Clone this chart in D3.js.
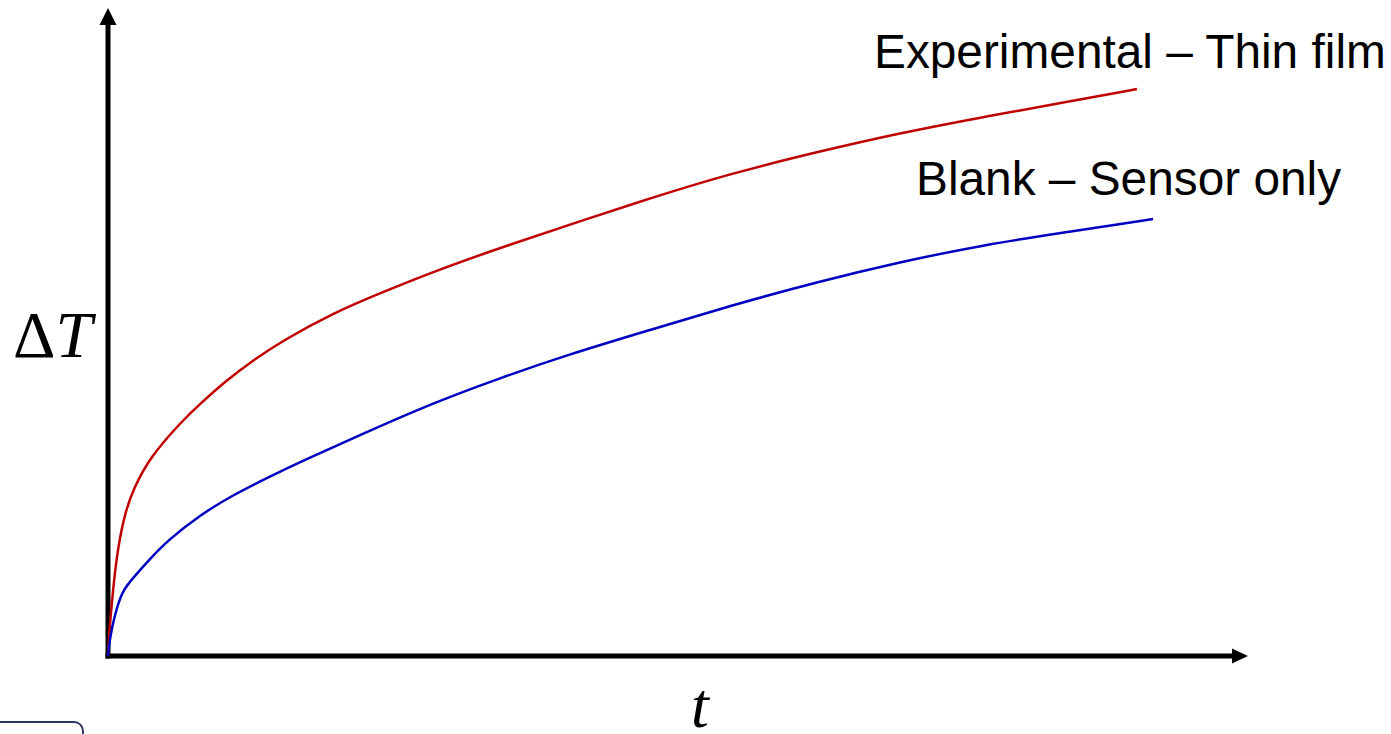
<!DOCTYPE html>
<html>
<head>
<meta charset="utf-8">
<script src="https://cdn.jsdelivr.net/npm/d3@7"></script>
<style>
  html, body { margin: 0; padding: 0; background: #fff; overflow: hidden; }
  svg { display: block; }
</style>
</head>
<body>
<svg id="chart" width="1391" height="734"></svg>
<script>
// ---- data (arbitrary units) ----
const expT   = [0, 0.09, 0.26, 0.53, 0.88, 1.49, 2.19, 3.68, 6.58, 8.07, 10.44, 12.46, 15.35, 19.74, 24.12, 28.51, 33.77, 47.54, 54.82, 62.19, 69.47, 76.75, 84.12, 90.26];
const expDT  = [0, 3.24, 6.64, 11.73, 16.82, 22.07, 25.62, 30.71, 36.42, 38.89, 42.59, 45.3, 48.7, 52.93, 56.17, 59.26, 62.65, 70.68, 74.54, 77.78, 80.71, 83.18, 85.49, 87.5];
const blankT  = [0, 0.09, 0.35, 0.79, 1.32, 2.19, 3.68, 5.18, 8.07, 10.96, 13.95, 16.84, 22.72, 28.51, 34.39, 40.26, 47.54, 54.82, 62.19, 69.47, 76.75, 84.12, 91.67];
const blankDT = [0, 1.7, 4.48, 7.56, 10.19, 12.04, 14.97, 17.75, 21.76, 24.85, 27.47, 29.94, 34.57, 39.04, 42.9, 46.45, 50.31, 54.17, 57.72, 60.8, 63.43, 65.43, 67.44];
const seriesNames = ["Experimental – Thin film", "Blank – Sensor only"];
const seriesColors = ["#c00000", "#0000c0"];

const svg = d3.select("#chart");
const x = d3.scaleLinear().domain([0, 100]).range([108, 1248]);
const y = d3.scaleLinear().domain([0, 100]).range([656, 8]);

// axes with arrowheads
const axisW = 5;
const x0 = x(0), y0 = y(0);
svg.append("line").attr("x1", x0).attr("x2", x0).attr("y1", y0 + axisW / 2).attr("y2", y(100) + 16)
  .attr("stroke", "#000").attr("stroke-width", axisW);
svg.append("line").attr("x1", x0 - axisW / 2).attr("x2", x(100) - 15).attr("y1", y0).attr("y2", y0)
  .attr("stroke", "#000").attr("stroke-width", axisW);
svg.append("path")
  .attr("d", `M${x0},${y(100)} L${x0 + 8.5},${y(100) + 17} L${x0 - 8.5},${y(100) + 17} Z`)
  .attr("fill", "#000");
svg.append("path")
  .attr("d", `M${x(100)},${y0} L${x(100) - 16},${y0 - 7.5} L${x(100) - 16},${y0 + 7.5} Z`)
  .attr("fill", "#000");

// curves
const line = d3.line().x(d => x(d[0])).y(d => y(d[1])).curve(d3.curveBasis);
const series = [
  d3.zip(expT, expDT),
  d3.zip(blankT, blankDT)
];
series.forEach((s, i) => {
  svg.append("path").datum(s).attr("d", line)
    .attr("fill", "none").attr("stroke", seriesColors[i]).attr("stroke-width", 2.5)
    .attr("stroke-linejoin", "round").attr("stroke-linecap", "butt");
});

// series labels
svg.append("text").attr("x", 874).attr("y", 68).text(seriesNames[0])
  .attr("font-family", "Liberation Sans, Arial, sans-serif").attr("font-size", 47.8).attr("fill", "#000");
svg.append("text").attr("x", 916).attr("y", 195).text(seriesNames[1])
  .attr("font-family", "Liberation Sans, Arial, sans-serif").attr("font-size", 47.8).attr("fill", "#000");

// axis labels
const yl = svg.append("text").attr("x", 13).attr("y", 357)
  .attr("font-family", "Liberation Serif, Times New Roman, serif").attr("font-size", 66).attr("fill", "#000");
yl.append("tspan").text("Δ");
yl.append("tspan").attr("font-style", "italic").text("T");

svg.append("text").attr("x", 691).attr("y", 727).text("t")
  .attr("font-family", "Liberation Serif, Times New Roman, serif").attr("font-style", "italic")
  .attr("font-size", 64).attr("fill", "#000");

// partial rounded box at bottom-left
svg.append("rect").attr("x", -20).attr("y", 722).attr("width", 103).attr("height", 40).attr("rx", 9)
  .attr("fill", "none").attr("stroke", "#2c3566").attr("stroke-width", 2);
</script>
</body>
</html>
